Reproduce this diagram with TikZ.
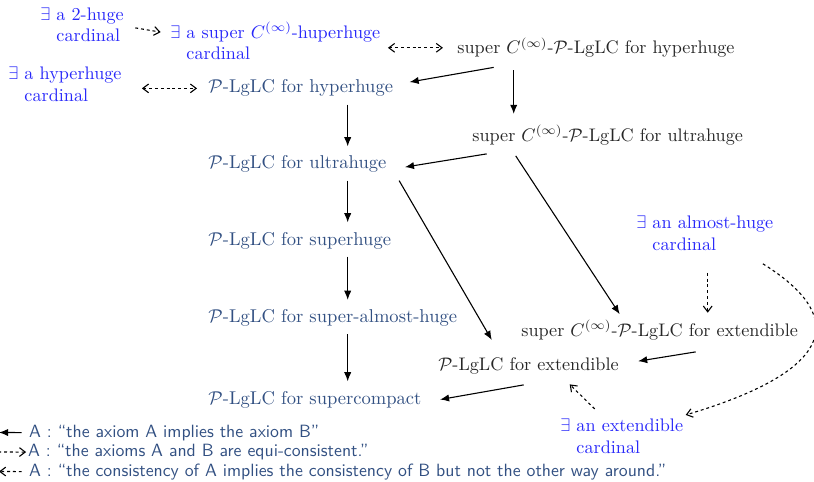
\documentclass[tikz,border=0pt]{standalone}
\usepackage{amssymb}
\usetikzlibrary{arrows.meta}
\definecolor{exblue}{RGB}{40,40,250}
\definecolor{plblue}{RGB}{50,80,130}
\begin{document}
\begin{tikzpicture}[x=0.55pt,y=-0.55pt,
  every node/.style={inner sep=4pt,anchor=base west},
  exnode/.style={text=exblue,align=left},
  plnode/.style={text=plblue,scale=1.02},
  supnode/.style={text=black!85},
  legnode/.style={text=plblue,font=\sffamily,scale=0.977},
  imp/.style={-{Latex[length=5pt,width=4pt]},semithick,shorten >=1pt},
  equi/.style={{Straight Barb[length=3.2pt,width=4.8pt]}-{Straight Barb[length=3.2pt,width=4.8pt]},semithick,dash pattern=on 1.6pt off 1.6pt},
  cons/.style={-{Straight Barb[length=3.2pt,width=4.8pt]},semithick,dash pattern=on 1.6pt off 1.6pt}]

  \useasboundingbox (0,0) rectangle (814,482);

  % Existence of large cardinals (base = last line)
  \node[exnode] (twohuge) at (32.7,42) {$\exists$ a 2-huge\\\phantom{$\exists$} cardinal};
  \node[exnode] (superhypc) at (162.7,60) {$\exists$ a super $C^{(\infty)}$-huperhuge\\\phantom{$\exists$} cardinal};
  \node[exnode] (hypc) at (0.7,101.5) {$\exists$ a hyperhuge\\\phantom{$\exists$} cardinal};
  \node[exnode] (almostc) at (628.7,250) {$\exists$ an almost-huge\\\phantom{$\exists$} cardinal};
  \node[exnode] (extc) at (552.7,453) {$\exists$ an extendible\\\phantom{$\exists$} cardinal};

  % Left column
  \node[plnode] (PLhyp) at (200.7,93) {$\mathcal{P}$-LgLC for hyperhuge};
  \node[plnode] (PLultra) at (200.7,169) {$\mathcal{P}$-LgLC for ultrahuge};
  \node[plnode] (PLsh) at (200.7,245) {$\mathcal{P}$-LgLC for superhuge};
  \node[plnode] (PLsah) at (200.7,322.5) {$\mathcal{P}$-LgLC for super-almost-huge};
  \node[plnode] (PLsc) at (200.7,404) {$\mathcal{P}$-LgLC for supercompact};

  % Super C(infty) principles
  \node[supnode] (superPhyp) at (449.7,54) {super $C^{(\infty)}$-$\mathcal{P}$-LgLC for hyperhuge};
  \node[supnode] (superPultra) at (464.7,141.5) {super $C^{(\infty)}$-$\mathcal{P}$-LgLC for ultrahuge};
  \node[supnode] (superPext) at (513.7,336.5) {super $C^{(\infty)}$-$\mathcal{P}$-LgLC for extendible};
  \node[supnode] (PLext) at (430.7,370) {$\mathcal{P}$-LgLC for extendible};

  % Implications
  \draw[imp] ([shift={(44,2)}]superPhyp.south west) -- ([shift={(7,-6)}]PLhyp.east);
  \draw[imp] ([shift={(64,5)}]superPhyp.south west) -- ([shift={(49,-2)}]superPultra.north west);
  \draw[imp] ([shift={(147,0)}]PLhyp.south west) -- ([shift={(147,0)}]PLultra.north west);
  \draw[imp] ([shift={(22,1)}]superPultra.south west) -- ([shift={(9,3)}]PLultra.east);
  \draw[imp] ([shift={(147,0)}]PLultra.south west) -- ([shift={(147,0)}]PLsh.north west);
  \draw[imp] ([shift={(5,0)}]PLultra.south east) -- ([shift={(62,-8)}]PLext.north west);
  \draw[imp] ([shift={(51,3)}]superPultra.south west) -- ([shift={(107,3)}]superPext.north west);
  \draw[imp] ([shift={(147,0)}]PLsh.south west) -- ([shift={(147,0)}]PLsah.north west);
  \draw[imp] ([shift={(147,0)}]PLsah.south west) -- ([shift={(147,0)}]PLsc.north west);
  \draw[imp] ([shift={(182,4)}]superPext.south west) -- ([shift={(10,-4)}]PLext.east);
  \draw[imp] ([shift={(93,3.5)}]PLext.south west) -- ([shift={(9,0.5)}]PLsc.east);

  % Consistency strength
  \draw[cons] ([shift={(4,3)}]twohuge.east) -- ([shift={(-2,-9)}]superhypc.west);
  \draw[cons] ([shift={(79,15)}]almostc.south west) -- ([shift={(194,0)}]superPext.north west);
  \draw[cons] ([shift={(-18,6)}]almostc.south east) .. controls +(82,51) and +(155,-46) .. ([shift={(-5,4)}]extc.north east);
  \draw[cons] ([shift={(42,-2)}]extc.north west) -- ([shift={(139,3)}]PLext.south west);
  \draw[equi,shorten >=3.7pt] (superPhyp.west -| superhypc.east) -- (superPhyp.west);
  \draw[equi,shorten <=7pt,shorten >=2pt] (PLhyp.west -| hypc.east) -- (PLhyp.west);

  % Legend
  \node[legnode] (legA1) at (21.7,437) {A : ``the axiom A implies the axiom B''};
  \node[legnode] (legA2) at (20.7,456.5) {A : ``the axioms A and B are equi-consistent.''};
  \node[legnode] (legA3) at (21.7,476) {A : ``the consistency of A implies the consistency of B but not the other way around.''};
  \coordinate (legB1) at (-1,432.5);
  \coordinate (legB2) at (-9,452);
  \coordinate (legB3) at (-1,471.5);
  \draw[imp,shorten >=0pt] (legA1.west) -- (legB1);
  \draw[equi] (legB2) -- ([xshift=3pt]legA2.west);
  \draw[cons] (legA3.west) -- (legB3);
\end{tikzpicture}
\end{document}
